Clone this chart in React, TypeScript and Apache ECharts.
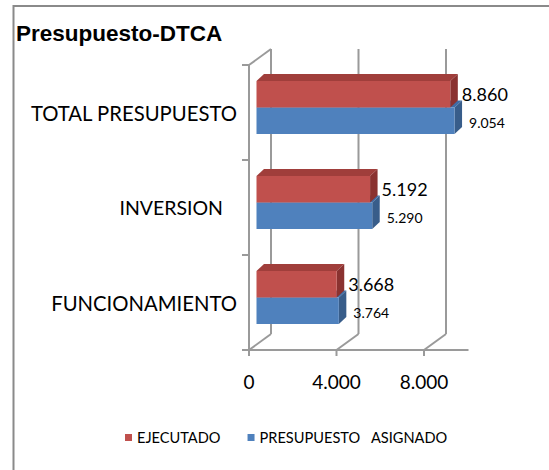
import React, { useEffect, useRef } from 'react';
import * as echarts from 'echarts';

const categories = ['FUNCIONAMIENTO', 'INVERSION', 'TOTAL PRESUPUESTO'];
const ejecutado = [3668, 5192, 8860];
const asignado = [3764, 5290, 9054];
const xTicks = [0, 4000, 8000];
const seriesNames = ['EJECUTADO', 'PRESUPUESTO   ASIGNADO'];
const titleText = 'Presupuesto-DTCA';

const FRAME = '#9a9a9a';
const DEPTH_X = 22;
const DEPTH_Y = -16;
const BAR_OFF_X = 7.5;
const BAR_OFF_Y = -5;
const BAR_DX = 7.5;
const BAR_DY = -7;
const FONT = 'Lato, "Open Sans", sans-serif';

const RED = { front: '#C0504D', top: '#A03E3B', side: '#8A3230' };
const BLUE = { front: '#4F81BD', top: '#3F6CA5', side: '#385D8A' };

function fmt(v: number): string {
  return String(Math.round(v)).replace(/\B(?=(\d{3})+(?!\d))/g, '.');
}

function makeBar(name: string, values: number[], col: any, upper: boolean) {
  return {
    type: 'custom',
    name,
    data: values.map((v, i) => [v, i]),
    encode: { x: 0, y: 1 },
    itemStyle: { color: col.front },
    silent: true,
    renderItem: (params: any, api: any) => {
      const val = api.value(0);
      const cat = api.value(1);
      const p0 = api.coord([0, cat]);
      const p1 = api.coord([val, cat]);
      const band = api.size([0, 1])[1];
      const th = band * 0.28;
      const center = p0[1] + BAR_OFF_Y;
      const top = upper ? center - th : center;
      const bottom = top + th;
      const x0 = p0[0] + BAR_OFF_X;
      const x1 = p1[0] + BAR_OFF_X;
      const children: any[] = [
        {
          type: 'polygon',
          shape: { points: [[x0, top], [x0 + BAR_DX, top + BAR_DY], [x1 + BAR_DX, top + BAR_DY], [x1, top]] },
          style: { fill: col.top },
        },
        {
          type: 'polygon',
          shape: { points: [[x1, top], [x1 + BAR_DX, top + BAR_DY], [x1 + BAR_DX, bottom + BAR_DY], [x1, bottom]] },
          style: { fill: col.side },
        },
        {
          type: 'rect',
          shape: { x: x0, y: top, width: x1 - x0, height: th },
          style: { fill: col.front },
        },
        {
          type: 'text',
          x: upper ? x1 + BAR_DX + 4 : x1 + BAR_DX + 7,
          y: upper ? top + th / 2 : top + th / 2 + 2,
          style: {
            text: fmt(val),
            fontSize: upper ? 18 : 14,
            fontFamily: FONT,
            fill: '#000',
            align: 'left',
            verticalAlign: 'middle',
          },
        },
      ];
      return { type: 'group', children };
    },
  };
}

export default function App() {
  const ref = useRef<HTMLDivElement>(null);
  useEffect(() => {
    if (!ref.current) return;
    const chart = echarts.init(ref.current, null, { renderer: 'svg' });
    const option: any = {
      animation: false,
      backgroundColor: '#ffffff',
      title: {
        text: titleText,
        left: 16,
        top: 22,
        padding: 0,
        textStyle: { fontFamily: '"Liberation Sans", Arial, sans-serif', fontWeight: 'bold', fontSize: 22.5, color: '#000' },
      },
      legend: {
        data: seriesNames,
        left: 125,
        top: 430,
        padding: 0,
        icon: 'rect',
        itemWidth: 7,
        itemHeight: 7,
        itemGap: 27,
        textStyle: { fontFamily: FONT, fontSize: 14.6, color: '#000' },
      },
      grid: { left: 249, top: 65, width: 218.75, height: 285 },
      xAxis: {
        type: 'value',
        min: 0,
        max: 10000,
        interval: 4000,
        splitLine: { show: false },
        axisLine: { show: true, lineStyle: { color: FRAME, width: 2 } },
        axisTick: { show: false },
        axisLabel: {
          margin: 22,
          fontSize: 19,
          fontFamily: FONT,
          color: '#000',
          formatter: (v: number) => (xTicks.indexOf(v) >= 0 ? fmt(v) : ''),
        },
      },
      yAxis: {
        type: 'category',
        data: categories,
        axisLine: { show: true, lineStyle: { color: FRAME, width: 2 } },
        axisTick: { show: true, length: 7, lineStyle: { color: FRAME, width: 2 } },
        axisLabel: {
          margin: 12,
          fontSize: 20.3,
          fontFamily: FONT,
          color: '#000',
          formatter: (v: string) => (v === 'INVERSION' ? '{p|' + v + '}' : v),
          rich: { p: { fontSize: 19.5, fontFamily: FONT, color: '#000', padding: [0, 14, 0, 0] } },
        },
        splitLine: { show: false },
      },
      graphic: [
        {
          type: 'rect',
          shape: { x: 13.5, y: 6, width: 700, height: 700 },
          style: { fill: 'none', stroke: '#8a8a8a', lineWidth: 2 },
          silent: true,
        },
      ],
      series: [
        {
          type: 'custom',
          name: 'frame',
          data: xTicks.map((v) => [v, 0]),
          encode: { x: 0, y: 1 },
          silent: true,
          renderItem: (params: any, api: any) => {
            const cs = params.coordSys;
            const v = api.value(0);
            const px = api.coord([v, 0])[0];
            const floorY = cs.y + cs.height;
            const topY = cs.y;
            const st = { stroke: FRAME, lineWidth: 2 };
            const children: any[] = [
              { type: 'line', shape: { x1: px, y1: floorY, x2: px, y2: floorY + 6 }, style: st },
              { type: 'line', shape: { x1: px, y1: floorY, x2: px + DEPTH_X, y2: floorY + DEPTH_Y }, style: st },
              { type: 'line', shape: { x1: px + DEPTH_X, y1: floorY + DEPTH_Y, x2: px + DEPTH_X, y2: topY + DEPTH_Y }, style: st },
            ];
            if (v === 0) {
              children.push({ type: 'line', shape: { x1: px, y1: topY, x2: px + DEPTH_X, y2: topY + DEPTH_Y }, style: st });
            }
            return { type: 'group', children };
          },
        },
        makeBar(seriesNames[1], asignado, BLUE, false),
        makeBar(seriesNames[0], ejecutado, RED, true),
      ],
    };
    chart.setOption(option);
    return () => chart.dispose();
  }, []);
  return <div ref={ref} style={{ position: 'fixed', left: 0, top: 0, width: 549, height: 470, background: '#fff' }} />;
}
